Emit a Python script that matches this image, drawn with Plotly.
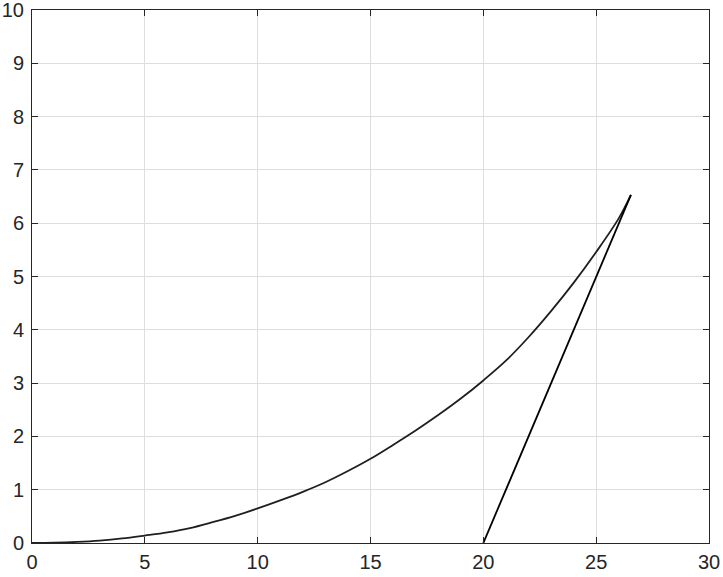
import plotly.graph_objects as go

curve_x = [0, 1, 2, 3, 4, 5, 6, 7, 8, 9, 10, 11, 12, 13, 14, 15, 16, 17, 18, 19, 20, 21, 22, 23, 24, 25, 26, 26.54]
curve_y = [0, 0.005, 0.02, 0.045, 0.085, 0.14, 0.2, 0.28, 0.39, 0.51, 0.65, 0.8, 0.96, 1.14, 1.35, 1.58, 1.84, 2.11, 2.4, 2.71, 3.05, 3.42, 3.86, 4.35, 4.88, 5.46, 6.09, 6.53]

line_x = [20, 26.54]
line_y = [0, 6.53]

x_ticks = [0, 5, 10, 15, 20, 25, 30]
y_ticks = [0, 1, 2, 3, 4, 5, 6, 7, 8, 9, 10]

fig = go.Figure()
fig.add_trace(go.Scatter(x=curve_x, y=curve_y, mode="lines",
                         line=dict(color="#1f1f1f", width=1.8, shape="spline", smoothing=1.0),
                         showlegend=False))
fig.add_trace(go.Scatter(x=line_x, y=line_y, mode="lines",
                         line=dict(color="#000000", width=1.8),
                         showlegend=False))

axis_common = dict(
    showgrid=True, gridcolor="#dedede", gridwidth=1,
    showline=True, linecolor="#262626", linewidth=1, mirror="ticks",
    ticks="inside", ticklen=6, tickcolor="#262626", tickwidth=1,
    zeroline=False, automargin=False, ticklabeloverflow="allow",
    tickfont=dict(family="Liberation Sans, Arial, sans-serif", size=20, color="#262626"),
)

fig.update_xaxes(range=[0, 30], tickvals=x_ticks, ticktext=[str(v) for v in x_ticks],
                 ticklabelstandoff=1, **axis_common)
fig.update_yaxes(range=[0, 10], tickvals=y_ticks, ticktext=[str(v) for v in y_ticks],
                 ticklabelstandoff=3, **axis_common)

fig.update_layout(
    width=723, height=577,
    margin=dict(l=32, r=14, t=10, b=34),
    plot_bgcolor="white", paper_bgcolor="white",
)

fig.write_html("out.html", config={"displayModeBar": False},
               post_script="document.body.style.margin='0px';")
